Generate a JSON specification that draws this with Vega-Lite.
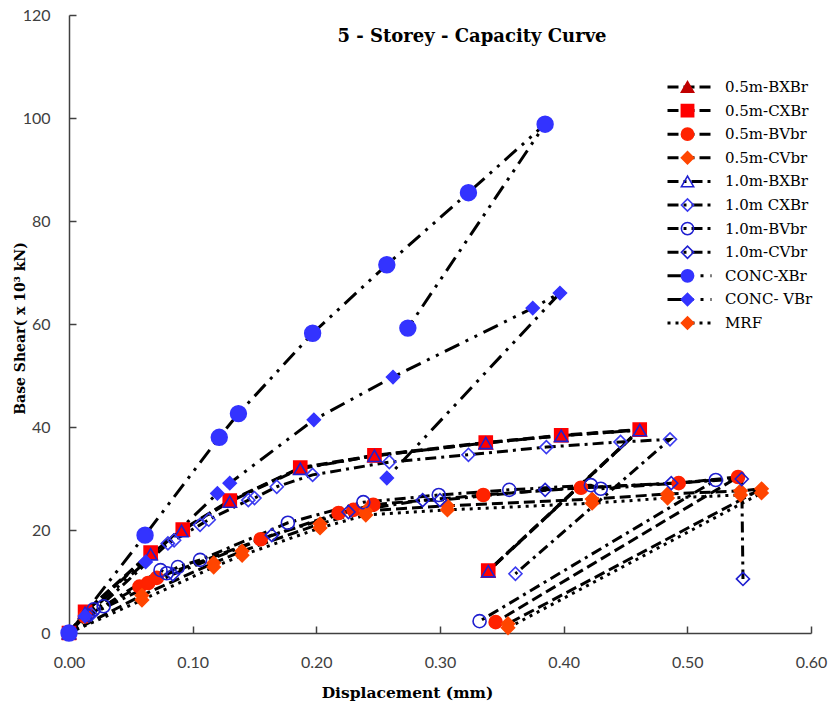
{
 "$schema": "https://vega.github.io/schema/vega-lite/v6.json",
 "width": 742, "height": 618,
 "autosize": {"type": "none"},
 "padding": {"left": 69, "top": 15, "right": 19, "bottom": 71},
 "background": "white",
 "config": {"view": {"stroke": null}, "axis": {"grid": false}},
 "title": {"text": "5 - Storey - Capacity Curve", "font": "DejaVu Serif", "fontSize": 18, "fontWeight": "bold", "color": "black", "anchor": "middle", "dx": 32, "dy": 39, "offset": 0},
 "data": {"values": [
  {"s":"0.5m-BXBr","i":0,"x":0,"y":0},{"s":"0.5m-BXBr","i":1,"x":0.013,"y":4.0},{"s":"0.5m-BXBr","i":2,"x":0.066,"y":15.5},{"s":"0.5m-BXBr","i":3,"x":0.092,"y":20.0},{"s":"0.5m-BXBr","i":4,"x":0.130,"y":25.6},{"s":"0.5m-BXBr","i":5,"x":0.187,"y":32.0},{"s":"0.5m-BXBr","i":6,"x":0.247,"y":34.4},{"s":"0.5m-BXBr","i":7,"x":0.337,"y":36.9},{"s":"0.5m-BXBr","i":8,"x":0.398,"y":38.3},{"s":"0.5m-BXBr","i":9,"x":0.4615,"y":39.4},{"s":"0.5m-BXBr","i":10,"x":0.339,"y":12.0},
  {"s":"0.5m-CXBr","i":0,"x":0,"y":0},{"s":"0.5m-CXBr","i":1,"x":0.013,"y":4.1},{"s":"0.5m-CXBr","i":2,"x":0.066,"y":15.6},{"s":"0.5m-CXBr","i":3,"x":0.092,"y":20.1},{"s":"0.5m-CXBr","i":4,"x":0.130,"y":25.7},{"s":"0.5m-CXBr","i":5,"x":0.187,"y":32.1},{"s":"0.5m-CXBr","i":6,"x":0.247,"y":34.5},{"s":"0.5m-CXBr","i":7,"x":0.337,"y":37.0},{"s":"0.5m-CXBr","i":8,"x":0.398,"y":38.4},{"s":"0.5m-CXBr","i":9,"x":0.4615,"y":39.5},{"s":"0.5m-CXBr","i":10,"x":0.339,"y":12.1},
  {"s":"0.5m-BVbr","i":0,"x":0,"y":0},{"s":"0.5m-BVbr","i":1,"x":0.013,"y":3.2},{"s":"0.5m-BVbr","i":2,"x":0.057,"y":9.0},{"s":"0.5m-BVbr","i":3,"x":0.064,"y":9.7},{"s":"0.5m-BVbr","i":4,"x":0.071,"y":10.7},{"s":"0.5m-BVbr","i":5,"x":0.155,"y":18.2},{"s":"0.5m-BVbr","i":6,"x":0.218,"y":23.3},{"s":"0.5m-BVbr","i":7,"x":0.230,"y":23.9},{"s":"0.5m-BVbr","i":8,"x":0.246,"y":24.9},{"s":"0.5m-BVbr","i":9,"x":0.335,"y":26.8},{"s":"0.5m-BVbr","i":10,"x":0.414,"y":28.2},{"s":"0.5m-BVbr","i":11,"x":0.493,"y":29.1},{"s":"0.5m-BVbr","i":12,"x":0.541,"y":30.3},{"s":"0.5m-BVbr","i":13,"x":0.345,"y":2.1},
  {"s":"0.5m-CVbr","i":0,"x":0,"y":0},{"s":"0.5m-CVbr","i":1,"x":0.059,"y":7.3},{"s":"0.5m-CVbr","i":2,"x":0.117,"y":13.6},{"s":"0.5m-CVbr","i":3,"x":0.140,"y":15.9},{"s":"0.5m-CVbr","i":4,"x":0.203,"y":21.2},{"s":"0.5m-CVbr","i":5,"x":0.240,"y":23.7},{"s":"0.5m-CVbr","i":6,"x":0.306,"y":24.7},{"s":"0.5m-CVbr","i":7,"x":0.423,"y":26.0},{"s":"0.5m-CVbr","i":8,"x":0.484,"y":27.0},{"s":"0.5m-CVbr","i":9,"x":0.543,"y":27.6},{"s":"0.5m-CVbr","i":10,"x":0.560,"y":28.0},{"s":"0.5m-CVbr","i":11,"x":0.355,"y":1.8},
  {"s":"1.0m-BXBr","i":0,"x":0,"y":0},{"s":"1.0m-BXBr","i":1,"x":0.013,"y":3.9},{"s":"1.0m-BXBr","i":2,"x":0.066,"y":15.3},{"s":"1.0m-BXBr","i":3,"x":0.091,"y":19.8},{"s":"1.0m-BXBr","i":4,"x":0.130,"y":25.5},{"s":"1.0m-BXBr","i":5,"x":0.187,"y":31.9},{"s":"1.0m-BXBr","i":6,"x":0.247,"y":34.4},{"s":"1.0m-BXBr","i":7,"x":0.337,"y":36.9},{"s":"1.0m-BXBr","i":8,"x":0.398,"y":38.3},{"s":"1.0m-BXBr","i":9,"x":0.4615,"y":39.4},{"s":"1.0m-BXBr","i":10,"x":0.339,"y":12.0},
  {"s":"1.0m CXBr","i":0,"x":0,"y":0},{"s":"1.0m CXBr","i":1,"x":0.018,"y":3.6},{"s":"1.0m CXBr","i":2,"x":0.080,"y":17.4},{"s":"1.0m CXBr","i":3,"x":0.085,"y":18.0},{"s":"1.0m CXBr","i":4,"x":0.106,"y":21.0},{"s":"1.0m CXBr","i":5,"x":0.113,"y":22.0},{"s":"1.0m CXBr","i":6,"x":0.145,"y":25.8},{"s":"1.0m CXBr","i":7,"x":0.150,"y":26.2},{"s":"1.0m CXBr","i":8,"x":0.168,"y":28.4},{"s":"1.0m CXBr","i":9,"x":0.197,"y":30.7},{"s":"1.0m CXBr","i":10,"x":0.259,"y":33.2},{"s":"1.0m CXBr","i":11,"x":0.323,"y":34.6},{"s":"1.0m CXBr","i":12,"x":0.386,"y":36.1},{"s":"1.0m CXBr","i":13,"x":0.446,"y":37.1},{"s":"1.0m CXBr","i":14,"x":0.486,"y":37.6},{"s":"1.0m CXBr","i":15,"x":0.361,"y":11.5},
  {"s":"1.0m-BVbr","i":0,"x":0,"y":0},{"s":"1.0m-BVbr","i":1,"x":0.020,"y":4.6},{"s":"1.0m-BVbr","i":2,"x":0.028,"y":5.2},{"s":"1.0m-BVbr","i":3,"x":0.074,"y":12.2},{"s":"1.0m-BVbr","i":4,"x":0.079,"y":11.6},{"s":"1.0m-BVbr","i":5,"x":0.088,"y":12.8},{"s":"1.0m-BVbr","i":6,"x":0.106,"y":14.2},{"s":"1.0m-BVbr","i":7,"x":0.177,"y":21.4},{"s":"1.0m-BVbr","i":8,"x":0.238,"y":25.4},{"s":"1.0m-BVbr","i":9,"x":0.299,"y":26.8},{"s":"1.0m-BVbr","i":10,"x":0.356,"y":27.8},{"s":"1.0m-BVbr","i":11,"x":0.422,"y":28.7},{"s":"1.0m-BVbr","i":12,"x":0.430,"y":28.0},{"s":"1.0m-BVbr","i":13,"x":0.523,"y":29.7},{"s":"1.0m-BVbr","i":14,"x":0.332,"y":2.3},
  {"s":"1.0m-CVbr","i":0,"x":0,"y":0},{"s":"1.0m-CVbr","i":1,"x":0.016,"y":3.4},{"s":"1.0m-CVbr","i":2,"x":0.084,"y":11.4},{"s":"1.0m-CVbr","i":3,"x":0.164,"y":19.0},{"s":"1.0m-CVbr","i":4,"x":0.226,"y":23.5},{"s":"1.0m-CVbr","i":5,"x":0.286,"y":25.8},{"s":"1.0m-CVbr","i":6,"x":0.300,"y":25.8},{"s":"1.0m-CVbr","i":7,"x":0.385,"y":27.8},{"s":"1.0m-CVbr","i":8,"x":0.487,"y":29.1},{"s":"1.0m-CVbr","i":9,"x":0.544,"y":29.9},{"s":"1.0m-CVbr","i":10,"x":0.545,"y":10.5},
  {"s":"CONC-XBr","i":0,"x":0,"y":0},{"s":"CONC-XBr","i":1,"x":0.0615,"y":19.0},{"s":"CONC-XBr","i":2,"x":0.1215,"y":38.0},{"s":"CONC-XBr","i":3,"x":0.137,"y":42.6},{"s":"CONC-XBr","i":4,"x":0.197,"y":58.2},{"s":"CONC-XBr","i":5,"x":0.257,"y":71.5},{"s":"CONC-XBr","i":6,"x":0.323,"y":85.5},{"s":"CONC-XBr","i":7,"x":0.385,"y":98.8},{"s":"CONC-XBr","i":8,"x":0.274,"y":59.2},
  {"s":"CONC- VBr","i":0,"x":0,"y":0},{"s":"CONC- VBr","i":1,"x":0.013,"y":3.3},{"s":"CONC- VBr","i":2,"x":0.062,"y":13.8},{"s":"CONC- VBr","i":3,"x":0.120,"y":27.1},{"s":"CONC- VBr","i":4,"x":0.130,"y":29.1},{"s":"CONC- VBr","i":5,"x":0.198,"y":41.4},{"s":"CONC- VBr","i":6,"x":0.262,"y":49.7},{"s":"CONC- VBr","i":7,"x":0.375,"y":63.1},{"s":"CONC- VBr","i":8,"x":0.397,"y":66.0},{"s":"CONC- VBr","i":9,"x":0.257,"y":30.1},
  {"s":"MRF","i":0,"x":0,"y":0},{"s":"MRF","i":1,"x":0.059,"y":6.4},{"s":"MRF","i":2,"x":0.117,"y":12.8},{"s":"MRF","i":3,"x":0.140,"y":15.1},{"s":"MRF","i":4,"x":0.203,"y":20.4},{"s":"MRF","i":5,"x":0.240,"y":22.9},{"s":"MRF","i":6,"x":0.306,"y":23.9},{"s":"MRF","i":7,"x":0.423,"y":25.2},{"s":"MRF","i":8,"x":0.484,"y":26.2},{"s":"MRF","i":9,"x":0.543,"y":26.8},{"s":"MRF","i":10,"x":0.560,"y":27.2},{"s":"MRF","i":11,"x":0.355,"y":1.0}
 ]},
 "encoding": {
  "x": {"field": "x", "type": "quantitative", "scale": {"domain": [0, 0.6], "nice": false},
   "axis": {"values": [0, 0.1, 0.2, 0.3, 0.4, 0.5, 0.6], "format": ".2f", "title": "Displacement (mm)",
    "titleFont": "DejaVu Serif", "titleFontSize": 15.5, "titleFontWeight": "bold", "titleColor": "black", "titleX": 338, "titleY": 59, "titleBaseline": "middle",
    "labelFont": "Lato", "labelFontSize": 16, "labelColor": "#404040", "labelPadding": 28, "labelFlush": false,
    "tickSize": -7, "tickWidth": 1.5, "tickColor": "#404040", "domainColor": "#404040", "domainWidth": 1.5}},
  "y": {"field": "y", "type": "quantitative", "scale": {"domain": [0, 120], "nice": false},
   "axis": {"values": [0, 20, 40, 60, 80, 100, 120], "title": "Base Shear( x 10³ kN)",
    "titleFont": "DejaVu Serif", "titleFontSize": 14, "titleFontWeight": "bold", "titleColor": "black", "titleX": -49, "titleY": 313, "titleBaseline": "middle", "titleAngle": -90,
    "labelFont": "Lato", "labelFontSize": 16, "labelColor": "#404040", "labelPadding": 26, "labelFlush": false,
    "tickSize": -7, "tickWidth": 1.5, "tickColor": "#404040", "domainColor": "#404040", "domainWidth": 1.5}}
 },
 "layer": [
  {"mark": {"type": "line", "strokeWidth": 3, "color": "black"},
   "encoding": {
    "strokeDash": {"field": "s", "type": "nominal",
     "sort": ["0.5m-BXBr","0.5m-CXBr","0.5m-BVbr","0.5m-CVbr","1.0m-BXBr","1.0m CXBr","1.0m-BVbr","1.0m-CVbr","CONC-XBr","CONC- VBr","MRF"],
     "scale": {"range": [[11,5],[11,5],[11,5],[11,5],[11,5,3,5],[11,5,3,5],[11,5,3,5],[11,5,3,5],[16,7,3,7,3,7],[16,7,3,7,3,7],[3,5]]},
     "legend": {"orient": "none", "legendX": 597, "legendY": 62, "title": null, "padding": 0, "symbolType": "stroke", "symbolSize": 1936, "symbolStrokeWidth": 3, "symbolStrokeColor": "black",
      "labelFont": "DejaVu Serif", "labelFontSize": 15, "labelColor": "black", "labelOffset": 12, "clipHeight": 20, "rowPadding": 3.6}},
    "order": {"field": "i", "type": "quantitative"}
   }},
  {"transform": [{"filter": "datum.s != 'CONC-XBr'"}],
   "mark": {"type": "point", "filled": true, "opacity": 1, "strokeWidth": 1.6, "size": 170},
   "encoding": {
    "shape": {"field": "s", "type": "nominal",
     "scale": {"domain": ["0.5m-BXBr","0.5m-CXBr","0.5m-BVbr","0.5m-CVbr","1.0m-BXBr","1.0m CXBr","1.0m-BVbr","1.0m-CVbr","CONC-XBr","CONC- VBr","MRF"],
      "range": ["triangle-up","square","circle","diamond","triangle-up","diamond","circle","diamond","circle","diamond","diamond"]},
     "legend": {"orient": "none", "legendX": 611, "legendY": 62, "title": null, "padding": 0, "symbolSize": 150, "symbolStrokeWidth": 1.6, "labelExpr": "''",
      "labelFont": "DejaVu Serif", "labelFontSize": 15, "clipHeight": 20, "rowPadding": 3.6}},
    "fill": {"field": "s", "type": "nominal",
     "scale": {"domain": ["0.5m-BXBr","0.5m-CXBr","0.5m-BVbr","0.5m-CVbr","1.0m-BXBr","1.0m CXBr","1.0m-BVbr","1.0m-CVbr","CONC-XBr","CONC- VBr","MRF"],
      "range": ["#C00000","#FF0000","#FF2200","#FF4500","transparent","transparent","transparent","transparent","#3333FF","#3333FF","#FF4500"]}},
    "stroke": {"field": "s", "type": "nominal",
     "scale": {"domain": ["0.5m-BXBr","0.5m-CXBr","0.5m-BVbr","0.5m-CVbr","1.0m-BXBr","1.0m CXBr","1.0m-BVbr","1.0m-CVbr","CONC-XBr","CONC- VBr","MRF"],
      "range": ["#C00000","#FF0000","#FF2200","#FF4500","#1F1FD0","#3A3AF0","#1F1FD0","#1F1FD0","#3333FF","#3333FF","#FF4500"]}}
   }},
  {"transform": [{"filter": "datum.s == 'CONC-XBr'"}],
   "mark": {"type": "point", "filled": true, "opacity": 1, "strokeWidth": 1.6, "size": 250},
   "encoding": {
    "shape": {"field": "s", "type": "nominal"},
    "fill": {"field": "s", "type": "nominal"},
    "stroke": {"field": "s", "type": "nominal"}
   }}
 ]
}
